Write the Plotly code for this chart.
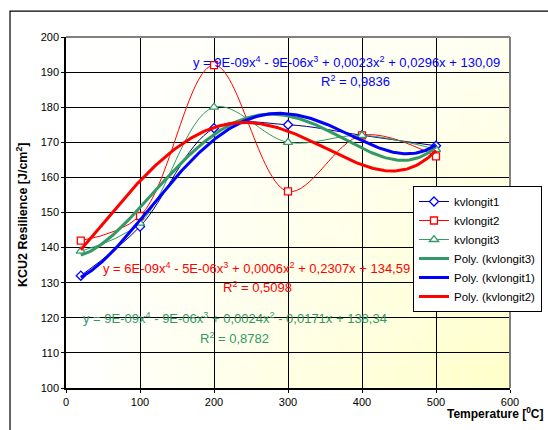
import numpy as np
import plotly.graph_objects as go

# ---- data ----
temperature = [20, 100, 200, 300, 400, 500]
kvlongit1 = [132, 146, 174, 175, 172, 169]
kvlongit2 = [142, 149, 192, 156, 172, 166]
kvlongit3 = [139, 147, 180, 170, 172, 168]

series_names = ["kvlongit1", "kvlongit2", "kvlongit3"]
trend_names = ["Poly. (kvlongit3)", "Poly. (kvlongit1)", "Poly. (kvlongit2)"]

eq1 = "y = 9E-09x<sup>4</sup> - 9E-06x<sup>3</sup> + 0,0023x<sup>2</sup> + 0,0296x + 130,09"
eq2 = "y = 6E-09x<sup>4</sup> - 5E-06x<sup>3</sup> + 0,0006x<sup>2</sup> + 0,2307x + 134,59"
eq3 = "y = 9E-09x<sup>4</sup> - 9E-06x<sup>3</sup> + 0,0024x<sup>2</sup> - 0,0171x + 138,34"
r2_1 = "R<sup>2</sup> = 0,9836"
r2_2 = "R<sup>2</sup> = 0,5098"
r2_3 = "R<sup>2</sup> = 0,8782"

x_ticks = [0, 100, 200, 300, 400, 500, 600]
y_ticks = [100, 110, 120, 130, 140, 150, 160, 170, 180, 190, 200]

FONT = "Liberation Sans, Arial, sans-serif"
BLUE = "#0000FF"
NAVY = "#000080"
RED = "#FF0000"
GREEN = "#339966"

fig = go.Figure()

fig.add_trace(go.Scatter(
    x=temperature, y=kvlongit1, name=series_names[0], mode="lines+markers",
    line=dict(color=NAVY, width=1, shape="spline", smoothing=1),
    marker=dict(symbol="diamond", size=7, color="white", line=dict(color=BLUE, width=1.3))))
fig.add_trace(go.Scatter(
    x=temperature, y=kvlongit2, name=series_names[1], mode="lines+markers",
    line=dict(color=RED, width=1, shape="spline", smoothing=1),
    marker=dict(symbol="square", size=7, color="white", line=dict(color=RED, width=1.3))))
fig.add_trace(go.Scatter(
    x=temperature, y=kvlongit3, name=series_names[2], mode="lines+markers",
    line=dict(color=GREEN, width=1, shape="spline", smoothing=1),
    marker=dict(symbol="triangle-up", size=8, color="white", line=dict(color=GREEN, width=1.3))))

# polynomial (4th order) trendlines fitted to the data
xs = np.linspace(min(temperature), max(temperature), 200)
for ys_data, name, col in [(kvlongit3, trend_names[0], GREEN),
                           (kvlongit1, trend_names[1], BLUE),
                           (kvlongit2, trend_names[2], RED)]:
    coef = np.polyfit(temperature, ys_data, 4)
    fig.add_trace(go.Scatter(x=xs, y=np.polyval(coef, xs), name=name, mode="lines",
                             line=dict(color=col, width=3)))

EQ_SIZE = 13
annotations = [
    dict(x=379, y=192.9, text=eq1, font=dict(color=BLUE, size=EQ_SIZE)),
    dict(x=391, y=187.5, text=r2_1, font=dict(color=BLUE, size=EQ_SIZE)),
    dict(x=257, y=134.2, text=eq2, font=dict(color=RED, size=EQ_SIZE)),
    dict(x=259, y=128.8, text=r2_2, font=dict(color=RED, size=EQ_SIZE)),
    dict(x=228, y=120.0, text=eq3, font=dict(color=GREEN, size=EQ_SIZE)),
    dict(x=228, y=114.2, text=r2_3, font=dict(color=GREEN, size=EQ_SIZE)),
]
for a in annotations:
    a.update(xref="x", yref="y", showarrow=False, xanchor="center", yanchor="middle")
    a["font"]["family"] = FONT

annotations.append(dict(xref="paper", yref="paper", x=-0.099, y=0.493, textangle=-90,
                        text="<b>KCU2 Resilience [J/cm<sup>2</sup>]</b>", showarrow=False,
                        xanchor="center", yanchor="middle",
                        font=dict(family=FONT, size=12.5, color="black")))
annotations.append(dict(xref="paper", yref="paper", x=1.0788, y=-0.07,
                        text="<b>Temperature [<sup>0</sup>C]</b>", showarrow=False,
                        xanchor="right", yanchor="middle",
                        font=dict(family=FONT, size=12, color="black")))

shapes = []
# plot area gradient background (white -> light yellow)
nx, ny = 36, 14
for i in range(nx):
    for j in range(ny):
        xn = (i + 0.5) / nx
        yd = 1 - (j + 0.5) / ny
        t = min(1.0, xn * (0.25 + 0.75 * yd))
        b = int(round(255 - t * (255 - 200)))
        shapes.append(dict(type="rect", xref="paper", yref="paper", layer="below",
                           x0=i / nx, x1=(i + 1) / nx, y0=j / ny, y1=(j + 1) / ny,
                           line=dict(width=0), fillcolor=f"rgb(255,255,{b})"))
# grey plot border on top and right
shapes.append(dict(type="line", xref="paper", yref="paper", x0=0, x1=1, y0=1, y1=1,
                   line=dict(color="#808080", width=2), layer="above"))
shapes.append(dict(type="line", xref="paper", yref="paper", x0=1, x1=1, y0=0, y1=1,
                   line=dict(color="#808080", width=2), layer="above"))
# outer chart border
shapes.append(dict(type="rect", xref="paper", yref="paper", x0=-0.1261, x1=1.3,
                   y0=-0.4, y1=1.074, line=dict(color="black", width=1.2),
                   fillcolor="rgba(0,0,0,0)", layer="above"))

fig.update_layout(
    width=548, height=430, autosize=False,
    margin=dict(l=66, r=38, t=37, b=42, autoexpand=False),
    paper_bgcolor="white", plot_bgcolor="white",
    font=dict(family=FONT, size=11, color="black"),
    showlegend=True,
    legend=dict(x=0.7815, y=0.5755, xanchor="left", yanchor="top",
                bgcolor="white", bordercolor="black", borderwidth=1,
                font=dict(family=FONT, size=11.5, color="black"),
                tracegroupgap=0),
    annotations=annotations,
    shapes=shapes,
    xaxis=dict(range=[0, 600], tickvals=x_ticks, ticks="outside", ticklen=3,
               tickcolor="black", showgrid=True, gridcolor="black", gridwidth=1,
               showline=True, linecolor="black", linewidth=1.5, zeroline=False,
               tickfont=dict(size=11)),
    yaxis=dict(range=[100, 200], tickvals=y_ticks, ticks="outside", ticklen=3,
               tickcolor="black", showgrid=True, gridcolor="black", gridwidth=1,
               showline=True, linecolor="black", linewidth=1.5, zeroline=False,
               tickfont=dict(size=11)),
)

post = ("document.body.style.margin='0';document.body.style.overflow='hidden';"
        "var gd=document.getElementById('{plot_id}');"
        "Plotly.relayout(gd,{width:548,height:430});")
fig.write_html("out.html", config={"displayModeBar": False}, post_script=post)
